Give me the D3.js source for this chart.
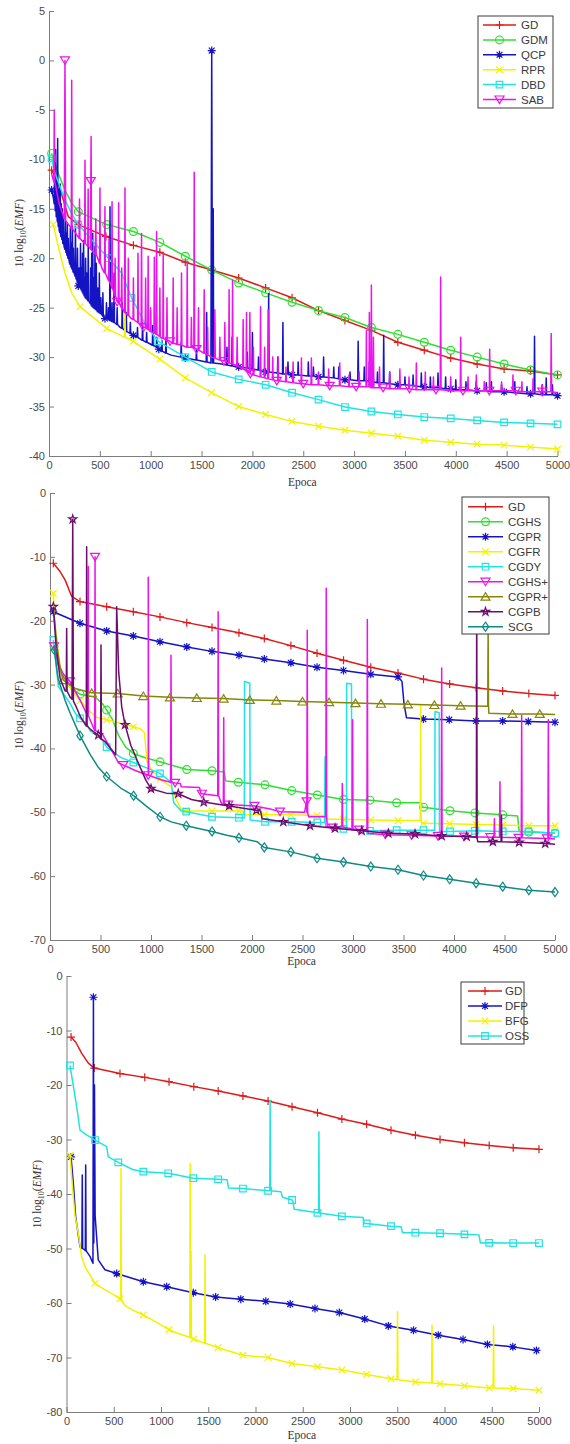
<!DOCTYPE html>
<html>
<head>
<meta charset="utf-8">
<script src="https://cdn.jsdelivr.net/npm/d3@7"></script>
<style>
  body { margin: 0; background: #fff; }
  svg { display: block; }
</style>
</head>
<body>
<svg id="chart" width="570" height="1444"></svg>
<script>
// ---- ticks ----
const xTickValues = [0, 500, 1000, 1500, 2000, 2500, 3000, 3500, 4000, 4500, 5000];
const yTicks1 = [5, 0, -5, -10, -15, -20, -25, -30, -35, -40];
const yTicks2 = [0, -10, -20, -30, -40, -50, -60, -70];
const yTicks3 = [0, -10, -20, -30, -40, -50, -60, -70, -80];

const names1 = ["GD", "GDM", "QCP", "RPR", "DBD", "SAB"];
const names2 = ["GD", "CGHS", "CGPR", "CGFR", "CGDY", "CGHS+", "CGPR+", "CGPB", "SCG"];
const names3 = ["GD", "DFP", "BFG", "OSS"];

// ---- panel 1 data: [epoch, value] (marked points), extra line points, spikes [epoch, base, peak] ----
const gd1 = [[26,-11.1],[288,-16.6],[560,-17.8],[830,-18.7],[1090,-19.4],[1340,-20.4],[1600,-21.2],[1865,-22],[2130,-23],[2390,-24],[2650,-25.3],[2910,-26.3],[3170,-27.3],[3430,-28.5],[3690,-29.3],[3950,-30.1],[4210,-30.7],[4475,-31.2],[4735,-31.4],[5000,-31.8]];
const gd1Extra = [[91,-12.4],[190,-15.8]];

const gdm1 = [[26,-9.4],[288,-15.3],[567,-16.6],[830,-17.3],[1090,-18.4],[1340,-19.8],[1600,-21.2],[1865,-22.5],[2130,-23.5],[2390,-24.45],[2650,-25.3],[2910,-26],[3170,-27],[3430,-27.7],[3690,-28.5],[3950,-29.3],[4210,-30],[4475,-30.7],[4735,-31.3],[5000,-31.8]];
const gdm1Extra = [[91,-11.4],[157,-13.1],[222,-14.4]];

const qcp1 = [[26,-13.1],[288,-22.8],[550,-26.1],[830,-27.8],[1080,-29.2],[1340,-30.1],[1600,1],[1865,-31],[2130,-31.5],[2390,-31.8],[2650,-32],[2910,-32.3],[3170,-32.5],[3430,-32.8],[3690,-33],[3950,-33.2],[4210,-33.4],[4475,-33.5],[4735,-33.7],[5000,-33.9]];
const qcp1Extra = [[45,-14],[100,-17.2],[150,-18.9],[200,-20.4],[250,-21.6],[400,-24.5],[700,-27],[1000,-28.7],[1200,-29.8],[1592,-30.6],[1608,-30.6],[1700,-30.7]];
const qcp1Spikes = [[55,-14.5,-11],[65,-15.2,-9],[75,-15.8,-12],[85,-16.3,-7.9],[95,-16.8,-13],[110,-17.4,-12.5],[120,-17.8,-14.5],[130,-18.1,-15],[140,-18.5,-16],[160,-19.1,-15.5],[170,-19.4,-17.5],[180,-19.7,-16.5],[190,-20,-18],[210,-20.6,-17],[220,-20.9,-18.5],[230,-21.1,-16.8],[240,-21.4,-19],[260,-21.8,-16.8],[270,-22.1,-20.5],[280,-22.4,-19],[295,-22.7,-21],[310,-23,-18.5],[320,-23.2,-21],[330,-23.4,-19.5],[340,-23.6,-18.2],[350,-23.8,-22],[360,-24,-20],[370,-24.1,-21.5],[386,-24.3,-18.5],[410,-24.6,-21],[420,-24.8,-19.5],[430,-24.9,-17.5],[440,-25,-22],[452,-25.1,-18.8],[465,-25.2,-20.5],[480,-25.4,-23],[495,-25.5,-21.5],[510,-25.6,-24],[530,-25.8,-23.5],[565,-26,-24.5],[585,-26.2,-25],[600,-26.3,-14.8],[620,-26.4,-24.5],[640,-26.5,-21.5],[670,-26.7,-25],[720,-27.1,-24.5],[760,-27.4,-25.5],[800,-27.6,-26.5],[870,-28,-27],[920,-28.3,-26.5],[960,-28.5,-27.5],[1020,-28.8,-26.8],[1060,-29,-28],[1110,-29.4,-28.3],[1150,-29.6,-28],[1300,-30,-28.5],[1450,-30.3,-29.2],[1550,-30.5,-25.5],[1615,-30.6,-15],[1750,-30.8,-29],[1800,-30.9,-28],[1950,-31.1,-29.5],[2000,-31.2,-27.5],[2060,-31.3,-30],[2160,-31.5,-23.6],[2250,-31.6,-30],[2300,-31.7,-26.5],[2350,-31.7,-30.5],[2450,-31.8,-30.5],[2550,-31.9,-30.5],[2600,-31.9,-31],[2700,-32,-30],[2800,-32.1,-31],[2850,-32.2,-31],[2960,-32.3,-31.5],[3040,-32.4,-28.4],[3100,-32.4,-31],[3150,-32.4,-30.5],[3230,-32.6,-31.5],[3291,-32.6,-27.8],[3350,-32.7,-31.5],[3500,-32.8,-32],[3580,-32.9,-31.8],[3661,-33,-31.6],[3750,-33.1,-32],[3825,-33.1,-31.6],[3900,-33.2,-32],[4000,-33.3,-32.3],[4100,-33.3,-32.5],[4200,-33.4,-32.5],[4300,-33.4,-32.6],[4350,-33.5,-32.5],[4450,-33.5,-32.8],[4580,-33.6,-32.5],[4700,-33.7,-33],[4774,-33.7,-27.9],[4850,-33.8,-32.8],[4889,-33.8,-32.1],[4950,-33.8,-32.8]];

const rpr1 = [[42,-16.6],[305,-24.9],[567,-27.1],[828,-28.4],[1090,-30.2],[1340,-32.1],[1600,-33.6],[1865,-35],[2130,-35.8],[2390,-36.5],[2650,-37],[2910,-37.4],[3170,-37.7],[3430,-38],[3690,-38.4],[3950,-38.6],[4210,-38.8],[4475,-38.9],[4735,-39.1],[5000,-39.3]];
const rpr1Extra = [[91,-18.8],[157,-21.5],[223,-23.5]];
const rpr1Spikes = [[747,-28,-25.6]];

const dbd1 = [[26,-9.9],[288,-16.6],[583,-20],[812,-24],[1074,-28.4],[1340,-30],[1600,-31.5],[1865,-32.25],[2130,-32.8],[2390,-33.6],[2650,-34.3],[2910,-35.05],[3170,-35.5],[3430,-35.8],[3690,-36.06],[3950,-36.2],[4210,-36.4],[4475,-36.6],[4735,-36.7],[5000,-36.8]];
const dbd1Extra = [[59,-11.4],[157,-14.1],[223,-15.5],[452,-18.5],[714,-21.5],[943,-26.6]];

const sab1 = [[157,0],[411,-12.2],[670,-24.4],[930,-27],[1190,-28.4],[1450,-29.2],[1720,-30.4],[1980,-31.7],[2240,-32.4],[2500,-32.7],[2760,-32.9],[3020,-33],[3285,-33.1],[3545,-33.2],[3805,-33.3],[4070,-33.4],[4330,-33.4],[4590,-33.4],[4850,-33.5]];
const sab1Extra = [[26,-11.5],[60,-12.4],[100,-14.5],[150,-16],[164,-16.2],[250,-17.3],[350,-18.5],[405,-19],[420,-19.2],[452,-19.5],[520,-21],[616,-22.9],[800,-26],[1100,-28],[1600,-30],[5000,-33.6]];
const sab1Spikes = [[52,-12.3,-5],[223,-17,-2],[300,-18,-14],[354,-18.5,-10.1],[385,-18.8,-13],[414,-19.1,-7.7],[460,-19.6,-16],[501,-20.5,-12.9],[550,-21.5,-14.8],[590,-22.3,-18],[620,-23,-14.3],[650,-23.8,-20],[685,-24.5,-14.4],[715,-25,-21],[747,-25.5,-12.9],[780,-25.8,-20],[830,-26.2,-22],[875,-26.5,-19.5],[910,-26.8,-17.5],[950,-27,-22],[975,-27.2,-19.8],[1000,-27.4,-25],[1036,-27.6,-19.9],[1058,-27.7,-17.3],[1090,-27.9,-23],[1123,-28.1,-19.5],[1160,-28.3,-24],[1221,-28.6,-22],[1260,-28.7,-25],[1303,-28.8,-21.5],[1359,-29,-20.3],[1400,-29,-26],[1428,-29.1,-11.3],[1470,-29.3,-25],[1526,-29.6,-23.2],[1560,-29.8,-27],[1631,-30.1,-25.2],[1680,-30.3,-28],[1729,-30.4,-26.5],[1771,-30.6,-23.2],[1805,-30.7,-22.2],[1850,-30.9,-28],[1909,-31.2,-26.2],[1942,-31.4,-25.5],[1975,-31.6,-25.5],[2010,-31.8,-29],[2080,-32,-24.9],[2120,-32.1,-29],[2155,-32.2,-25.2],[2200,-32.3,-30],[2253,-32.4,-30],[2330,-32.5,-31],[2400,-32.6,-30.5],[2482,-32.7,-30.1],[2580,-32.8,-30.1],[2650,-32.8,-31.5],[2750,-32.9,-31.2],[2859,-32.9,-30.6],[2950,-33,-31.8],[3050,-33,-31.5],[3121,-33,-27.3],[3150,-33,-25.5],[3170,-33.1,-22.7],[3190,-33.1,-28],[3250,-33.1,-31],[3350,-33.2,-31.5],[3450,-33.2,-31.2],[3540,-33.2,-32],[3612,-33.3,-30.6],[3700,-33.3,-31.5],[3780,-33.3,-32],[3851,-33.3,-21.9],[3950,-33.4,-32],[4048,-33.4,-28],[4120,-33.4,-32],[4202,-33.4,-31.8],[4280,-33.4,-32.5],[4333,-33.4,-29.2],[4450,-33.4,-32.5],[4562,-33.4,-31.8],[4650,-33.5,-32.5],[4760,-33.5,-32.2],[4850,-33.5,-32.8],[4938,-33.5,-27.6]];

// ---- panel 2 data ----
const gd2 = [[33,-11],[297,-17],[561,-17.8],[825,-18.6],[1089,-19.4],[1354,-20.3],[1604,-21.05],[1871,-21.9],[2122,-22.8],[2385,-23.9],[2644,-25.1],[2906,-26.2],[3176,-27.3],[3446,-28.2],[3698,-29.15],[3957,-29.9],[4219,-30.5],[4482,-31],[4741,-31.4],[5000,-31.7]];
const gd2Extra = [[100,-12.3],[149,-13.6],[215,-16.2]];

const cghs2 = [[40,-24],[297,-31.5],[561,-34],[825,-40.8],[1089,-42.1],[1354,-43.3],[1604,-43.5],[1865,-45.3],[2129,-45.7],[2393,-46.6],[2647,-47.3],[2906,-48],[3168,-48.1],[3432,-48.5],[3698,-49.2],[3960,-49.75],[4208,-50.1],[4482,-50.4],[4741,-53.1],[5000,-53.3]];
const cghs2Extra = [[80,-27],[150,-29.5],[220,-30.8],[450,-32],[520,-33],[620,-35.5],[680,-38],[750,-39.8],[950,-41.5],[1725,-43.7],[1740,-45.1],[3675,-48.5],[3685,-49.2],[4630,-50.6],[4645,-53]];

const cgpr2 = [[33,-18.6],[297,-20.4],[561,-21.6],[825,-22.4],[1089,-23.3],[1354,-24.1],[1604,-24.8],[1871,-25.4],[2122,-26],[2385,-26.6],[2644,-27.3],[2906,-27.8],[3176,-28.4],[3446,-28.8],[3696,-35.4],[3953,-35.5],[4218,-35.7],[4482,-35.7],[4736,-35.8],[5000,-35.9]];
const cgpr2Extra = [[3485,-29.5],[3505,-33],[3530,-35.2]];

const cgfr2 = [[33,-15.7],[300,-32.5],[561,-35.5],[827,-36.6],[1090,-44.8],[1349,-49.8],[1604,-49.8],[1871,-49.8],[2122,-50.4],[2385,-50.4],[2644,-50.5],[2906,-51.1],[3176,-51.2],[3446,-51.3],[3698,-51.7],[3957,-51.8],[4219,-51.9],[4482,-52],[4741,-52.1],[5000,-52.1]];
const cgfr2Extra = [[50,-21.5],[116,-28.8],[215,-30.8],[380,-34],[470,-35.2],[891,-36.9],[935,-37.5],[960,-42],[1010,-43.5],[1200,-46],[1250,-48],[1300,-49.5],[1910,-49.8],[1920,-50.4],[2735,-50.5],[2745,-51.1],[3680,-51.7]];
const cgfr2Spikes = [[3670,-51.3,-33.2]];

const cgdy2 = [[33,-23],[297,-35.3],[561,-39.8],[825,-42.2],[1089,-43.9],[1349,-49.9],[1604,-50.7],[1871,-50.85],[2129,-51.5],[2393,-51.5],[2647,-51.6],[2906,-52.6],[3168,-52.9],[3432,-52.8],[3698,-52.8],[3960,-53],[4208,-52.9],[4482,-53],[4736,-53],[5000,-53.3]];
const cgdy2Extra = [[83,-30.3],[198,-32.9],[250,-34.5],[363,-36.1],[400,-37.3],[495,-38.2],[700,-41.4],[950,-43],[1200,-45.3],[1225,-48.5],[1300,-49.8],[1924,-50.9],[1926,-29.5],[1978,-29.8],[1982,-51.2],[2718,-51.6],[2723,-41.3],[2728,-52.3],[2935,-52.6],[2937,-29.8],[2985,-29.9],[2988,-52.8],[3810,-52.8],[3812,-34.2],[3853,-34.4],[3856,-53]];

const cghsp2 = [[40,-24],[198,-29.5],[446,-10],[726,-42.6],[973,-44.2],[1238,-45.4],[1504,-47.1],[1765,-48.8],[2025,-49],[2277,-49.9],[2541,-48.3],[2800,-52.4],[3060,-52.7],[3320,-53.5],[3580,-53.6],[3840,-53.7],[4100,-53.8],[4360,-53.9],[4640,-54],[4921,-54.1]];
const cghsp2Extra = [[83,-26.7],[130,-28.3],[300,-32.5],[380,-35],[520,-37.8],[600,-40],[680,-42.3],[850,-43.5],[1100,-44.9],[1290,-45.5],[1300,-46],[1480,-46.1],[1495,-47.1],[1660,-47.4],[1700,-48.7],[2180,-49.5],[2520,-50],[2560,-50.7],[2730,-50.7],[2745,-52.2],[3100,-52.8],[3150,-53.3],[5000,-54.2]];
const cghsp2Spikes = [[379,-35,-11.5],[446,-37.2,-10],[973,-44.2,-13.2],[1198,-45.3,-25.4],[1665,-47.4,-18.6],[1720,-48.7,-35.2],[2547,-50,-21.5],[2735,-50.7,-14.9],[2894,-52.3,-45.5],[2996,-52.6,-35.5],[3142,-52.8,-19.8],[3878,-53.7,-27.4],[4400,-53.9,-51],[4455,-53.9,-45.2],[4670,-54,-34.8],[4934,-54.1,-35.5]];

const cgprp2 = [[132,-29.3],[413,-31.3],[670,-31.4],[924,-31.8],[1188,-32],[1453,-32.1],[1719,-32.2],[1978,-32.4],[2241,-32.5],[2500,-32.65],[2763,-32.75],[3025,-32.9],[3277,-33],[3543,-33.1],[3806,-33.2],[4065,-33.3],[4579,-34.6],[4849,-34.6]];
const cgprp2Extra = [[40,-19],[70,-24],[100,-27.5],[250,-30.6],[4330,-33.4],[4345,-34.5],[5000,-34.7]];
const cgprp2Spikes = [[4338,-33.4,-21]];

const cgpb2 = [[33,-17.8],[225,-4.1],[478,-37.9],[743,-36.3],[1000,-46.3],[1270,-47.1],[1522,-48.4],[1773,-49],[2043,-49.7],[2310,-51.5],[2574,-52.1],[2822,-52.5],[3086,-52.9],[3350,-53.3],[3614,-53.4],[3878,-53.7],[4125,-53.8],[4385,-54.6],[4645,-54.7],[4903,-54.9]];
const cgpb2Extra = [[60,-24],[100,-29],[150,-31],[200,-32],[218,-32.3],[232,-32.6],[260,-33.5],[300,-35],[400,-37],[550,-39],[600,-40],[650,-41],[660,-17.8],[680,-28],[710,-33.5],[800,-39.5],[880,-42.5],[950,-45],[1150,-47],[1400,-48],[2085,-49.8],[2100,-51],[4215,-53.9],[4235,-54.6],[5000,-55]];
const cgpb2Spikes = [[165,-31,-21.2],[363,-36.5,-8.4],[505,-38.5,-23.8],[4225,-54,-15],[4470,-54.6,-50.5]];

const scg2 = [[43,-24.6],[297,-38],[561,-44.4],[827,-47.4],[1090,-50.7],[1349,-52.1],[1604,-53],[1871,-54],[2122,-55.5],[2385,-56.2],[2644,-57.2],[2906,-57.8],[3176,-58.5],[3446,-59],[3698,-59.9],[3957,-60.5],[4219,-61.1],[4482,-61.65],[4741,-62.2],[5000,-62.5]];
const scg2Extra = [[80,-29],[150,-32.5],[200,-34.5],[400,-41],[480,-43],[700,-46.2],[950,-49],[1200,-51.5],[1750,-53.6],[2050,-54.6],[2110,-55.4]];

// ---- panel 3 data ----
const gd3 = [[48,-11.2],[294,-16.9],[566,-17.9],[828,-18.6],[1085,-19.4],[1347,-20.3],[1605,-21.1],[1867,-22],[2133,-22.95],[2387,-24],[2656,-25.1],[2914,-26.25],[3176,-27.2],[3434,-28.3],[3692,-29.2],[3953,-30],[4211,-30.6],[4473,-31.1],[4727,-31.5],[5000,-31.8]];
const gd3Extra = [[100,-12.2],[161,-14.2],[231,-16]];

const dfp3 = [[48,-33.2],[285,-3.9],[531,-54.6],[813,-56.1],[1060,-57],[1342,-58.1],[1578,-58.9],[1844,-59.3],[2109,-59.7],[2367,-60.2],[2629,-61],[2887,-61.75],[3156,-62.95],[3406,-64.2],[3672,-65],[3934,-65.9],[4196,-66.7],[4454,-67.6],[4723,-68.05],[4973,-68.7]];
const dfp3Extra = [[72,-38],[97,-44.2],[143,-49.7],[196,-50.3],[250,-51.5],[280,-52.7],[289,-49],[296,-20],[303,-44],[336,-52.1],[407,-53.9],[5000,-68.8]];
const dfp3Spikes = [[167,-50,-36.5],[203,-50.4,-34.7]];

const bfg3 = [[38,-32.9],[302,-56.4],[566,-59.2],[813,-62.2],[1085,-64.9],[1347,-66.6],[1605,-68.2],[1867,-69.6],[2133,-70],[2387,-71.1],[2656,-71.7],[2914,-72.3],[3176,-73.1],[3434,-73.9],[3692,-74.5],[3953,-74.8],[4211,-75.2],[4473,-75.6],[4727,-75.7],[5000,-76]];
const bfg3Extra = [[60,-38],[90,-44],[125,-47.2],[160,-51.5],[200,-53.5],[400,-57.5],[500,-58.5],[620,-60.5],[700,-61.3],[950,-63.5],[1200,-65.7],[1450,-67.3]];
const bfg3Spikes = [[577,-59.5,-35.3],[1309,-66.3,-34.4],[1318,-66.4,-50.5],[1466,-67.4,-51.2],[3503,-74.1,-61.6],[3868,-74.7,-64.1],[4519,-75.6,-64.2]];

const oss3 = [[37,-16.4],[302,-30.1],[548,-34.2],[813,-35.9],[1077,-36.2],[1342,-37.1],[1605,-37.3],[1867,-39],[2133,-39.4],[2387,-41.1],[2656,-43.45],[2914,-44.1],[3176,-45.4],[3434,-45.9],[3692,-47.1],[3953,-47.2],[4211,-47.4],[4473,-48.96],[4727,-49],[5000,-49]];
const oss3Extra = [[108,-24],[143,-28.3],[200,-29],[425,-31.3],[442,-33.2],[700,-35.5],[1700,-37.4],[1715,-38.9],[2270,-39.6],[2285,-40.6],[2395,-41.3],[2410,-42.8],[3140,-44.3],[3150,-45.4],[3540,-46],[3555,-47.1],[4365,-47.5],[4380,-49]];
const oss3Spikes = [[2155,-39.4,-22.8],[2671,-43.5,-28.6]];

// ---- styles ----
const COL = {
  red: "#e01a1a", green: "#2fe02f", blue: "#1414c4", yellow: "#f2f200",
  cyan: "#1fe4e4", magenta: "#ec14ec", olive: "#86860a", purple: "#6c0c6c", teal: "#108a84"
};
const SPIKE_HALF = 4; // epochs either side of a spike tip

const panels = [
  {
    left: 49, right: 557.5, top: 11, bottom: 456, yDomain: [-40, 5], yTicks: yTicks1,
    ylab: [23, 233], xlabY: 486,
    legend: { x0: 478, y0: 16, x1: 553, y1: 108, row0: 25, step: 14.9, lx1: 483, lx2: 516, tx: 521 },
    series: [
      { name: names1[0], marks: gd1, extra: gd1Extra, color: COL.red, shape: "plus" },
      { name: names1[1], marks: gdm1, extra: gdm1Extra, color: COL.green, shape: "circle" },
      { name: names1[2], marks: qcp1, extra: qcp1Extra, spikes: qcp1Spikes, color: COL.blue, shape: "star" },
      { name: names1[3], marks: rpr1, extra: rpr1Extra, spikes: rpr1Spikes, color: COL.yellow, shape: "x" },
      { name: names1[4], marks: dbd1, extra: dbd1Extra, color: COL.cyan, shape: "square" },
      { name: names1[5], marks: sab1, extra: sab1Extra, spikes: sab1Spikes, color: COL.magenta, shape: "tridown" }
    ]
  },
  {
    left: 50, right: 555, top: 493, bottom: 940, yDomain: [-70, 0], yTicks: yTicks2,
    ylab: [23, 715], xlabY: 965,
    legend: { x0: 462, y0: 497, x1: 549, y1: 634, row0: 506.7, step: 15, lx1: 468, lx2: 503, tx: 508 },
    series: [
      { name: names2[0], marks: gd2, extra: gd2Extra, color: COL.red, shape: "plus" },
      { name: names2[1], marks: cghs2, extra: cghs2Extra, color: COL.green, shape: "circle" },
      { name: names2[2], marks: cgpr2, extra: cgpr2Extra, color: COL.blue, shape: "star" },
      { name: names2[3], marks: cgfr2, extra: cgfr2Extra, spikes: cgfr2Spikes, color: COL.yellow, shape: "x" },
      { name: names2[4], marks: cgdy2, extra: cgdy2Extra, color: COL.cyan, shape: "square" },
      { name: names2[5], marks: cghsp2, extra: cghsp2Extra, spikes: cghsp2Spikes, color: COL.magenta, shape: "tridown" },
      { name: names2[6], marks: cgprp2, extra: cgprp2Extra, spikes: cgprp2Spikes, color: COL.olive, shape: "triup" },
      { name: names2[7], marks: cgpb2, extra: cgpb2Extra, spikes: cgpb2Spikes, color: COL.purple, shape: "pentagram" },
      { name: names2[8], marks: scg2, extra: scg2Extra, color: COL.teal, shape: "diamond" }
    ]
  },
  {
    left: 66.5, right: 539, top: 976, bottom: 1412, yDomain: [-80, 0], yTicks: yTicks3,
    ylab: [41, 1194], xlabY: 1439,
    legend: { x0: 461, y0: 982, x1: 524, y1: 1044, row0: 991, step: 15, lx1: 468, lx2: 502, tx: 505 },
    series: [
      { name: names3[0], marks: gd3, extra: gd3Extra, color: COL.red, shape: "plus" },
      { name: names3[1], marks: dfp3, extra: dfp3Extra, spikes: dfp3Spikes, color: COL.blue, shape: "star" },
      { name: names3[2], marks: bfg3, extra: bfg3Extra, spikes: bfg3Spikes, color: COL.yellow, shape: "x" },
      { name: names3[3], marks: oss3, extra: oss3Extra, spikes: oss3Spikes, color: COL.cyan, shape: "square" }
    ]
  }
];

const svg = d3.select("#chart");

// merge marked points, extra points and spikes into one ordered line
function buildLine(s) {
  const pts = s.marks.concat(s.extra || []).map(d => ({ e: d[0], v: d[1] }));
  (s.spikes || []).forEach(k => {
    pts.push({ e: k[0] - SPIKE_HALF, v: k[1] }, { e: k[0], v: k[2] }, { e: k[0] + SPIKE_HALF, v: k[1] });
  });
  pts.sort((a, b) => a.e - b.e);
  return pts;
}

function markerPath(shape) {
  switch (shape) {
    case "plus": return "M-4,0H4M0,-4V4";
    case "x": return "M-3.3,-3.3L3.3,3.3M-3.3,3.3L3.3,-3.3";
    case "star": return "M-4,0H4M0,-4V4M-2.9,-2.9L2.9,2.9M-2.9,2.9L2.9,-2.9";
    case "circle": return d3.symbol(d3.symbolCircle, 48)();
    case "square": return "M-3.3,-3.3H3.3V3.3H-3.3Z";
    case "tridown": return "M-4.5,-3.5H4.5L0,4Z";
    case "triup": return "M-4.5,3.5H4.5L0,-4Z";
    case "diamond": return "M0,-4.5L3.2,0L0,4.5L-3.2,0Z";
    case "pentagram": return d3.symbol(d3.symbolStar, 20)();
  }
}

panels.forEach(p => {
  const x = d3.scaleLinear().domain([0, 5000]).range([p.left, p.right]);
  const y = d3.scaleLinear().domain(p.yDomain).range([p.bottom, p.top]);
  const g = svg.append("g");

  // axes (MATLAB style: left + bottom, ticks inside)
  const xAxis = g.append("g")
    .attr("transform", `translate(0,${p.bottom})`)
    .call(d3.axisBottom(x).tickValues(xTickValues).tickFormat(d3.format("d"))
      .tickSizeInner(-5).tickSizeOuter(0).tickPadding(5));
  const yAxis = g.append("g")
    .attr("transform", `translate(${p.left},0)`)
    .call(d3.axisLeft(y).tickValues(p.yTicks).tickFormat(d3.format("d"))
      .tickSizeInner(-5).tickSizeOuter(0).tickPadding(4));
  [xAxis, yAxis].forEach(a => {
    a.selectAll("path, line").attr("stroke", "#7d7d7d");
    a.selectAll("text")
      .attr("fill", "#4a4a4a")
      .style("font-family", "'Liberation Sans', Arial, sans-serif")
      .style("font-size", "11px");
  });
  yAxis.selectAll("text").text(d => d === 0 ? "0" : (d < 0 ? "-" + Math.abs(d) : String(d)));

  // axis titles
  g.append("text")
    .attr("x", (p.left + p.right) / 2 - 1)
    .attr("y", p.xlabY)
    .attr("text-anchor", "middle")
    .attr("fill", "#333")
    .style("font-family", "'Liberation Serif', 'DejaVu Serif', serif")
    .style("font-size", "11.5px")
    .text("Epoca");

  const yl = g.append("text")
    .attr("transform", `translate(${p.ylab[0]},${p.ylab[1]}) rotate(-90)`)
    .attr("text-anchor", "middle")
    .attr("fill", "#333")
    .style("font-family", "'Liberation Serif', 'DejaVu Serif', serif")
    .style("font-size", "11.5px");
  yl.append("tspan").text("10 log");
  yl.append("tspan").attr("dy", 3).style("font-size", "8px").text("10");
  yl.append("tspan").attr("dy", -3).text("(");
  yl.append("tspan").style("font-style", "italic").text("EMF");
  yl.append("tspan").text(")");

  // series
  const line = d3.line().x(d => x(d.e)).y(d => y(d.v));
  p.series.forEach(s => {
    g.append("path")
      .datum(buildLine(s))
      .attr("d", line)
      .attr("fill", "none")
      .attr("stroke", s.color)
      .attr("stroke-width", 1.5)
      .attr("stroke-linejoin", "round");
    g.append("g").selectAll("path")
      .data(s.marks)
      .enter().append("path")
      .attr("transform", d => `translate(${x(d[0])},${y(d[1])})`)
      .attr("d", markerPath(s.shape))
      .attr("fill", "none")
      .attr("stroke", s.color)
      .attr("stroke-width", 1.2);
  });

  // legend
  const L = p.legend;
  const lg = g.append("g");
  lg.append("rect")
    .attr("x", L.x0).attr("y", L.y0)
    .attr("width", L.x1 - L.x0).attr("height", L.y1 - L.y0)
    .attr("fill", "#fff").attr("stroke", "#3c3c3c").attr("stroke-width", 1);
  p.series.forEach((s, i) => {
    const ry = L.row0 + i * L.step;
    lg.append("line")
      .attr("x1", L.lx1).attr("x2", L.lx2).attr("y1", ry).attr("y2", ry)
      .attr("stroke", s.color).attr("stroke-width", 1.5);
    lg.append("path")
      .attr("transform", `translate(${(L.lx1 + L.lx2) / 2},${ry})`)
      .attr("d", markerPath(s.shape))
      .attr("fill", "none").attr("stroke", s.color).attr("stroke-width", 1.2);
    lg.append("text")
      .attr("x", L.tx).attr("y", ry).attr("dy", "0.36em")
      .attr("fill", "#3a3a3a")
      .style("font-family", "'Liberation Sans', Arial, sans-serif")
      .style("font-size", "11.5px")
      .text(s.name);
  });
});
</script>
</body>
</html>
